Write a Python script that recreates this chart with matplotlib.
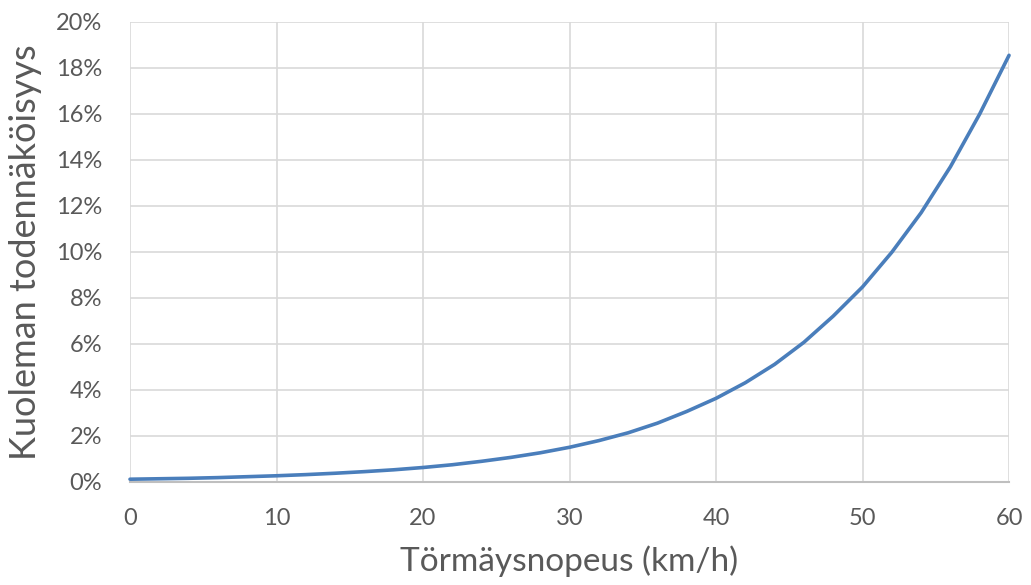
import matplotlib
matplotlib.use("Agg")
import matplotlib.pyplot as plt
from matplotlib.ticker import FuncFormatter

speed = [0, 2, 4, 6, 8, 10, 12, 14, 16, 18, 20, 22, 24, 26, 28, 30,
         32, 34, 36, 38, 40, 42, 44, 46, 48, 50, 52, 54, 56, 58, 60]
death_prob_pct = [0.10, 0.12, 0.14, 0.17, 0.21, 0.25, 0.30, 0.36, 0.43, 0.51,
                  0.61, 0.73, 0.88, 1.05, 1.25, 1.49, 1.78, 2.12, 2.54, 3.05,
                  3.62, 4.30, 5.10, 6.06, 7.20, 8.47, 9.98, 11.7, 13.7, 16.0, 18.55]
x_ticks = [0, 10, 20, 30, 40, 50, 60]
y_ticks = [0, 2, 4, 6, 8, 10, 12, 14, 16, 18, 20]
x_label = "Törmäysnopeus (km/h)"
y_label = "Kuoleman todennäköisyys"

plt.rcParams['font.family'] = ['Lato', 'DejaVu Sans']
fig = plt.figure(figsize=(10.31, 5.85), dpi=100)
ax = fig.add_axes([0.1261, 0.1769, 0.8526, 0.7855])

ax.plot(speed, death_prob_pct, color='#4a7ebb', lw=2.6, solid_capstyle='round',
        solid_joinstyle='round', zorder=3, clip_on=False)

ax.set_xlim(0, 60)
ax.set_ylim(0, 20)
ax.set_xticks(x_ticks)
ax.set_yticks(y_ticks)
ax.yaxis.set_major_formatter(FuncFormatter(lambda v, p: f"{int(v)}%"))
ax.grid(True, color='#d9d9d9', lw=1.2, zorder=0)
ax.set_axisbelow(True)
for s in ['top', 'right', 'left']:
    ax.spines[s].set_visible(False)
ax.spines['bottom'].set_color('#bfbfbf')
ax.spines['bottom'].set_linewidth(1.5)
ax.tick_params(length=0, labelsize=17, colors='#595959')
ax.tick_params(axis='x', pad=19)
ax.tick_params(axis='y', pad=20)
ax.set_xlabel(x_label, fontsize=24, color='#595959', labelpad=12)
ax.set_ylabel(y_label, fontsize=26, color='#595959', labelpad=10)

fig.savefig("out.png", dpi=100)
